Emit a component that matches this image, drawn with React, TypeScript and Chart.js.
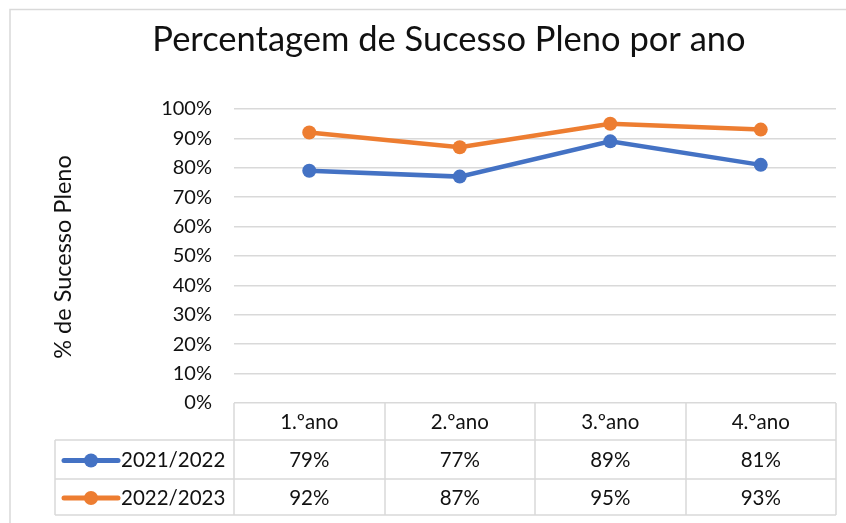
import React, { useEffect, useRef } from "react";
import { Chart, registerables } from "chart.js";

Chart.register(...registerables);

const categories = ["1.ºano", "2.ºano", "3.ºano", "4.ºano"];
const seriesNames = ["2021/2022", "2022/2023"];
const values2021 = [79, 77, 89, 81];
const values2022 = [92, 87, 95, 93];
const seriesColors = ["#4472C4", "#ED7D31"];
const yTicks = [0, 10, 20, 30, 40, 50, 60, 70, 80, 90, 100];
const titleText = "Percentagem de Sucesso Pleno por ano";
const yTitleText = "% de Sucesso Pleno";

const FONT = "Lato, 'Open Sans', sans-serif";
const GRID = "#d9d9d9";

const tablePlugin = {
  id: "excelTable",
  afterDraw(chart: any) {
    const ctx = chart.ctx as CanvasRenderingContext2D;
    const x = chart.scales.x;
    const area = chart.chartArea;
    const top = area.bottom;
    const rowBounds = [top, 440, 479, 515];
    const tableLeft = 55;
    const colW = (area.right - area.left) / categories.length;
    ctx.save();
    // chart border (top + left)
    ctx.strokeStyle = GRID;
    ctx.lineWidth = 1.5;
    ctx.beginPath();
    ctx.moveTo(10, 523);
    ctx.lineTo(10, 9.5);
    ctx.lineTo(846, 9.5);
    ctx.stroke();

    // title
    ctx.fillStyle = "#111";
    ctx.font = `34.5px ${FONT}`;
    ctx.textAlign = "center";
    ctx.textBaseline = "middle";
    ctx.fillText(titleText, 449, 40);

    // y title
    ctx.save();
    ctx.translate(63, 257);
    ctx.rotate(-Math.PI / 2);
    ctx.font = `23.5px ${FONT}`;
    ctx.fillText(yTitleText, 0, 0);
    ctx.restore();

    // table lines
    ctx.strokeStyle = GRID;
    ctx.lineWidth = 1.5;
    ctx.beginPath();
    for (let i = 0; i <= categories.length; i++) {
      const px = Math.round(area.left + i * colW);
      ctx.moveTo(px, top);
      ctx.lineTo(px, rowBounds[3]);
    }
    ctx.moveTo(tableLeft, rowBounds[1]);
    ctx.lineTo(tableLeft, rowBounds[3]);
    for (let r = 1; r < rowBounds.length; r++) {
      ctx.moveTo(tableLeft, rowBounds[r]);
      ctx.lineTo(area.right, rowBounds[r]);
    }
    ctx.stroke();

    // header
    ctx.fillStyle = "#111";
    ctx.font = `20.5px ${FONT}`;
    ctx.textAlign = "center";
    ctx.textBaseline = "middle";
    categories.forEach((c, i) => {
      ctx.fillText(c, x.getPixelForValue(i), (rowBounds[0] + rowBounds[1]) / 2 + 1);
    });

    const allValues = [values2021, values2022];
    allValues.forEach((vals, s) => {
      const cy = (rowBounds[s + 1] + rowBounds[s + 2]) / 2 + 1;
      vals.forEach((v, i) => {
        ctx.textAlign = "center";
        ctx.fillText(`${v}%`, x.getPixelForValue(i), cy);
      });
      ctx.strokeStyle = seriesColors[s];
      ctx.lineWidth = 5;
      ctx.lineCap = "round";
      ctx.beginPath();
      ctx.moveTo(64, cy);
      ctx.lineTo(118, cy);
      ctx.stroke();
      ctx.fillStyle = seriesColors[s];
      ctx.beginPath();
      ctx.arc(91, cy, 7, 0, Math.PI * 2);
      ctx.fill();
      ctx.fillStyle = "#111";
      ctx.textAlign = "left";
      ctx.fillText(seriesNames[s], 121, cy);
    });
    ctx.restore();
  },
};

export default function App() {
  const ref = useRef<HTMLCanvasElement>(null);
  useEffect(() => {
    document.body.style.margin = "0";
    const chart = new Chart(ref.current!, {
      type: "line",
      data: {
        labels: categories,
        datasets: [values2021, values2022].map((vals, i) => ({
          label: seriesNames[i],
          data: vals,
          borderColor: seriesColors[i],
          backgroundColor: seriesColors[i],
          borderWidth: 4.5,
          pointRadius: 7,
          pointBorderWidth: 0,
          tension: 0,
        })),
      },
      options: {
        animation: false,
        responsive: false,
        layout: { padding: { top: 109, bottom: 120, left: 0, right: 10 } },
        plugins: { legend: { display: false }, title: { display: false }, tooltip: { enabled: false } },
        scales: {
          x: { display: false, offset: true },
          y: {
            min: 0,
            max: 100,
            afterFit: (s: any) => {
              s.width = 234;
            },
            afterBuildTicks: (s: any) => {
              s.ticks = yTicks.map((v) => ({ value: v }));
            },
            border: { display: false },
            grid: { color: GRID, lineWidth: 1.5, drawTicks: false },
            ticks: {
              padding: 22,
              color: "#111",
              font: { family: FONT, size: 20 },
              callback: (v: any) => `${v}%`,
            },
          },
        },
      },
      plugins: [tablePlugin],
    });
    return () => chart.destroy();
  }, []);
  return (
    <div style={{ position: "absolute", left: 0, top: 0, width: 846, height: 523, background: "#fff" }}>
      <canvas ref={ref} width={846} height={523} style={{ width: 846, height: 523 }} />
    </div>
  );
}
